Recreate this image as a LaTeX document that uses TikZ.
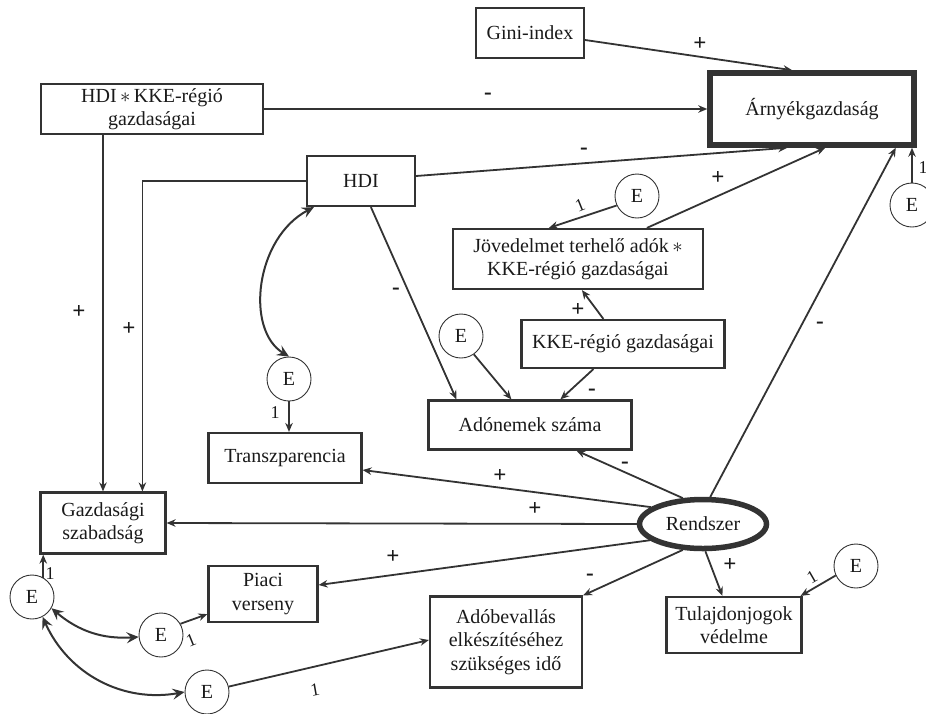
\documentclass[tikz,border=0pt]{standalone}
\usepackage{fontspec}
\setmainfont{Liberation Serif}
\usetikzlibrary{arrows.meta,calc,shapes.geometric}
\definecolor{ln}{HTML}{333333}
\definecolor{tx}{HTML}{1A1A1A}
\tikzset{
  box/.style={draw=ln,line width=2.2pt,rectangle,inner sep=0pt,align=center,text=tx,font=\fontsize{20}{23.5}\selectfont},
  ebox/.style={draw=ln,line width=0.9pt,circle,minimum size=44pt,inner sep=0pt,text=tx,font=\fontsize{20}{23.5}\selectfont},
  arr/.style={draw=ln,line width=1.8pt,-{Stealth[length=9pt,width=7.5pt]}},
  barr/.style={draw=ln,line width=2pt,{Stealth[length=12pt,width=11pt,inset=4.5pt]}-{Stealth[length=12pt,width=11pt,inset=4.5pt]}},
  sgn/.style={font=\fontsize{23}{26}\selectfont\bfseries,text=tx,inner sep=0pt},
  one/.style={font=\fontsize{18}{21}\selectfont,text=tx,inner sep=0pt}
}
\begin{document}
\begin{tikzpicture}[x=1pt,y=-1pt]
\useasboundingbox (0,0) rectangle (926,713);
% boxes
\node[box,minimum width=108pt,minimum height=50pt] (gini) at (530,33) {Gini-index};
\node[box,minimum width=204pt,minimum height=72pt,line width=5.5pt] (arny) at (812,109) {Árnyékgazdaság};
\node[box,minimum width=222pt,minimum height=50pt] (hdikke) at (152,109) {HDI$\,\ast\,$KKE-régió\\gazdaságai};
\node[box,minimum width=108pt,minimum height=50pt] (hdi) at (361,181) {HDI};
\node[box,minimum width=250pt,minimum height=60pt] (jov) at (578,259) {Jövedelmet terhelő adók$\,\ast$\\KKE-régió gazdaságai};
\node[box,minimum width=203pt,minimum height=48pt] (kke) at (623,344) {KKE-régió gazdaságai};
\node[box,minimum width=203pt,minimum height=49pt] (ado) at (530,425) {Adónemek száma};
\node[box,minimum width=153pt,minimum height=50pt] (transz) at (285,458) {Transzparencia};
\node[box,minimum width=125pt,minimum height=61pt] (gazd) at (103,523) {Gazdasági\\szabadság};
\node[box,minimum width=109pt,minimum height=56pt] (piaci) at (263,594) {Piaci\\verseny};
\node[box,minimum width=152pt,minimum height=91pt] (adob) at (506,642) {Adóbevallás\\elkészítéséhez\\szükséges idő};
\node[box,minimum width=135pt,minimum height=56pt] (tul) at (734,625) {Tulajdonjogok\\védelme};
\node[box,ellipse,line width=5.5pt,minimum width=127pt,minimum height=49pt] (rend) at (703,524) {Rendszer};
% error terms
\node[ebox] (e1) at (637,196) {E};
\node[ebox] (e2) at (912,205) {E};
\node[ebox] (e3) at (461,336) {E};
\node[ebox] (e4) at (289,379) {E};
\node[ebox] (e5) at (32,597) {E};
\node[ebox] (e6) at (161,635) {E};
\node[ebox] (e7) at (207,692) {E};
\node[ebox] (e8) at (856,566) {E};
% connectors
\draw[arr] ($(gini.east)+(0,7)$) -- ($(arny.north west)+(85,0)$);
\draw[arr] (hdikke.east) -- (arny.west);
\draw[arr] ($(hdi.east)+(0,-5)$) -- ($(arny.south west)+(80,0)$);
\draw[arr] ($(jov.north west)+(195,0)$) -- ($(arny.south west)+(118,0)$);
\draw[arr] (rend.75) -- ($(arny.south east)+(-21,0)$);
\draw[arr] (e2.north) -- (e2.north |- arny.south);
\draw[arr] (e1.205) -- ($(jov.north west)+(97,0)$);
\draw[arr] ($(kke.north west)+(83,0)$) -- ($(jov.south west)+(130,0)$);
\draw[arr] ($(kke.south west)+(73,0)$) -- ($(ado.north west)+(133,0)$);
\draw[arr] (e3.305) -- ($(ado.north west)+(84,0)$);
\draw[arr] ($(hdi.south west)+(65,0)$) -- ($(ado.north west)+(29,0)$);
\draw[barr] ($(hdi.south west)+(8,0)$) .. controls (255,238) and (245,330) .. (e4.north);
\draw[arr] (e4.south) -- (e4.south |- transz.north);
\draw[arr] (gazd.north |- hdikke.south) -- (gazd.north);
\draw[arr] (hdi.west) -| ($(gazd.north west)+(103,0)$);
\draw[arr] (rend.162) -- ($(transz.east)+(0,12)$);
\draw[arr] (rend.west) -- (gazd.east);
\draw[arr] (rend.128) -- ($(ado.south west)+(149,0)$);
\draw[arr] (rend.197) -- ($(piaci.east)+(0,-9)$);
\draw[arr] (rend.232) -- (adob.north east);
\draw[arr] (rend.275) -- ($(tul.north west)+(57,0)$);
\draw[arr] (e8.205) -- ($(tul.north east)+(-2,0)$);
\draw[arr] (e5.60) -- (e5.60 |- gazd.south);
\draw[barr] (e5.-30) to[bend right=22] (e6.185);
\draw[barr] (e5.-62) to[bend right=38] (e7.180);
\draw[arr] (e6.30) -- ($(piaci.south west)+(0,-9)$);
\draw[arr] (e7.14) -- ($(adob.west)+(0,-2)$);
% labels
\node[sgn] at (700,44) {+};
\node[sgn] at (488,96) {-};
\node[sgn] at (584,151) {-};
\node[sgn] at (718,178) {+};
\node[sgn] at (820,325) {-};
\node[sgn] at (578,310) {+};
\node[sgn] at (592,392) {-};
\node[sgn] at (396,291) {-};
\node[sgn] at (79,312) {+};
\node[sgn] at (129,329) {+};
\node[sgn] at (500,476) {+};
\node[sgn] at (535,509) {+};
\node[sgn] at (625,465) {-};
\node[sgn] at (393,557) {+};
\node[sgn] at (590,577) {-};
\node[sgn] at (730,565) {+};
\node[one] at (923,168) {1};
\node[one,rotate=22] at (580,205) {1};
\node[one] at (275,413) {1};
\node[one,rotate=30] at (812,577) {1};
\node[one] at (50,574) {1};
\node[one,rotate=22] at (191,640) {1};
\node[one,rotate=10] at (315,690) {1};
\end{tikzpicture}
\end{document}
